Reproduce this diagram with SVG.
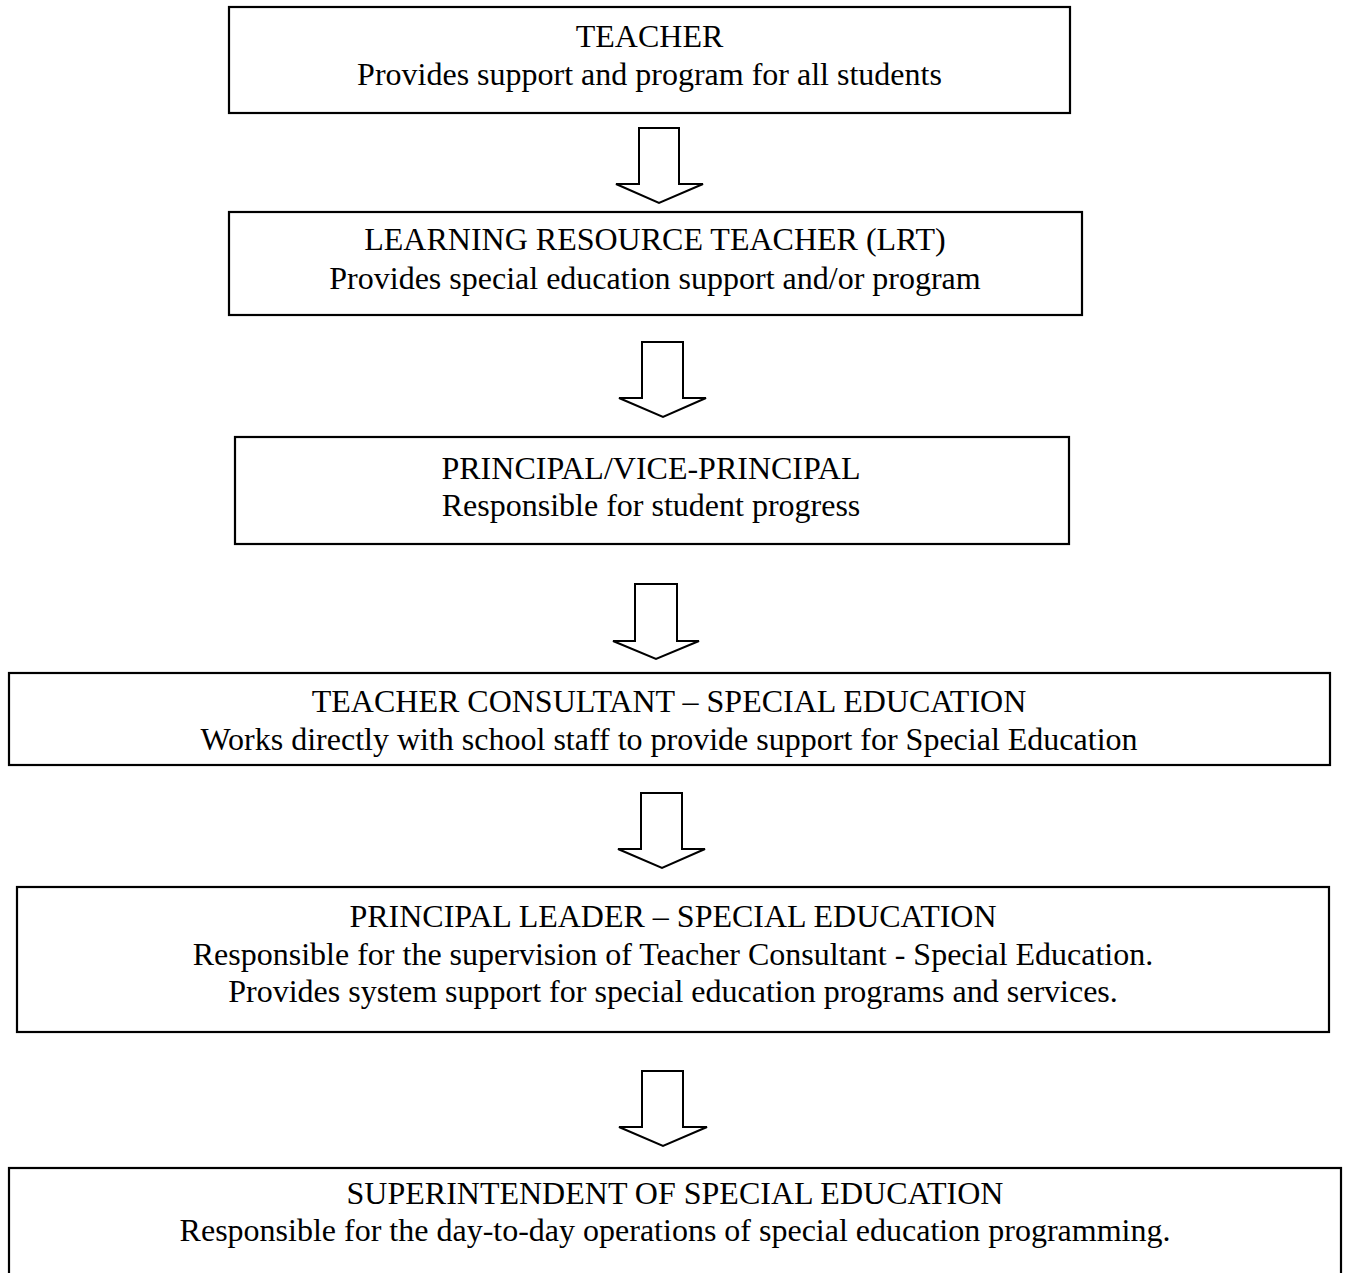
<svg xmlns="http://www.w3.org/2000/svg" width="1348" height="1273" viewBox="0 0 1348 1273">
<style>
.box{fill:#fff;stroke:#000;stroke-width:2.2}
.arrow{fill:#fff;stroke:#000;stroke-width:2}
text{font-family:"Liberation Serif","Times New Roman",serif;font-size:32px;fill:#000;text-anchor:middle}
</style>
<rect width="1348" height="1273" fill="#fff"/>
<g id="connectors">
<polygon class="arrow" points="639,128 679,128 679,184 703,184 659,203 616,184 639,184"/>
<polygon class="arrow" points="642,342 683,342 683,398 706,398 663,417 619,398 642,398"/>
<polygon class="arrow" points="635,584 677,584 677,641 699,641 656,659 613,641 635,641"/>
<polygon class="arrow" points="641,793 682,793 682,849 705,849 662,868 618,849 641,849"/>
<polygon class="arrow" points="642,1071 683,1071 683,1127 707,1127 663,1146 619,1127 642,1127"/>
</g>
<g id="teacher">
<rect class="box" x="229" y="7" width="841" height="106"/>
<text x="649.5" y="47">TEACHER</text>
<text x="649.5" y="85">Provides support and program for all students</text>
</g>
<g id="lrt">
<rect class="box" x="229" y="212" width="853" height="103"/>
<text x="655" y="250">LEARNING RESOURCE TEACHER (LRT)</text>
<text x="655" y="289">Provides special education support and/or program</text>
</g>
<g id="principal">
<rect class="box" x="235" y="437" width="834" height="107"/>
<text x="651" y="479">PRINCIPAL/VICE-PRINCIPAL</text>
<text x="651" y="516">Responsible for student progress</text>
</g>
<g id="consultant">
<rect class="box" x="9" y="673" width="1321" height="92"/>
<text x="669" y="712">TEACHER CONSULTANT – SPECIAL EDUCATION</text>
<text x="669" y="750">Works directly with school staff to provide support for Special Education</text>
</g>
<g id="leader">
<rect class="box" x="17" y="887" width="1312" height="145"/>
<text x="673" y="927">PRINCIPAL LEADER – SPECIAL EDUCATION</text>
<text x="673" y="965">Responsible for the supervision of Teacher Consultant - Special Education.</text>
<text x="673" y="1002">Provides system support for special education programs and services.</text>
</g>
<g id="superintendent">
<rect class="box" x="9" y="1168" width="1332" height="140"/>
<text x="675" y="1204">SUPERINTENDENT OF SPECIAL EDUCATION</text>
<text x="675" y="1241">Responsible for the day-to-day operations of special education programming.</text>
</g>
</svg>
